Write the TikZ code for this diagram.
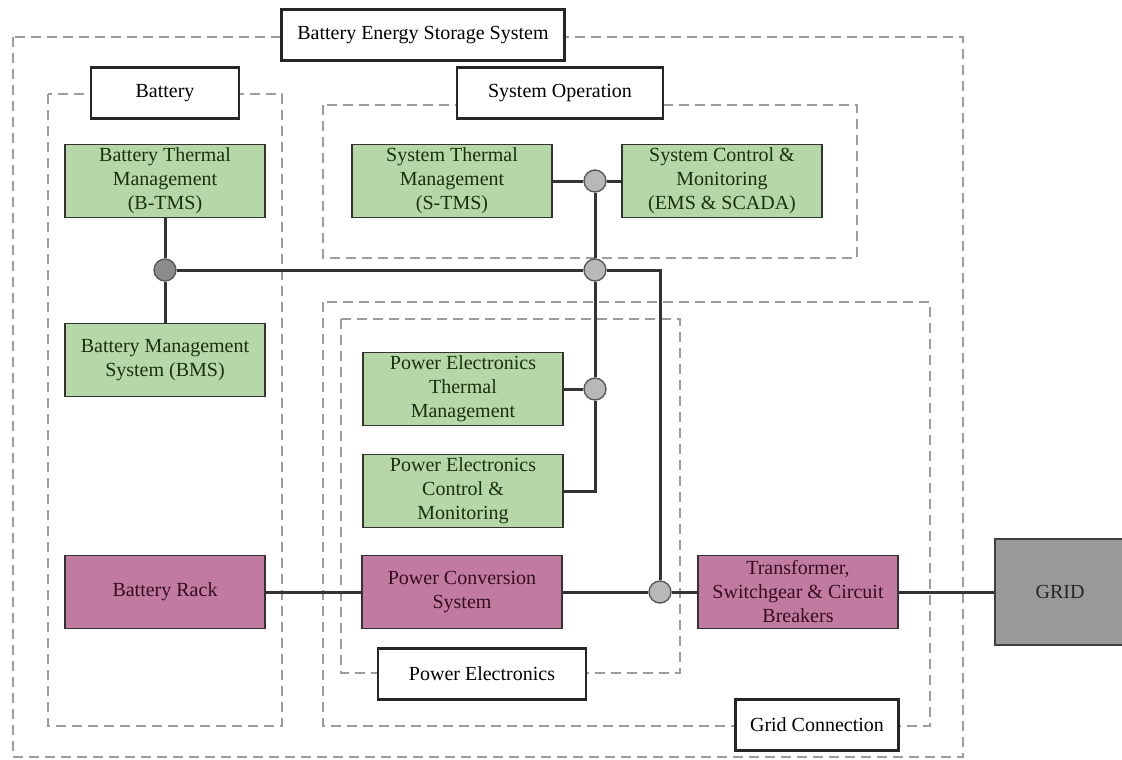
\documentclass[tikz,border=0pt]{standalone}
\usepackage{fontspec}
\setmainfont{Liberation Serif}
\usetikzlibrary{positioning,calc}
\usepackage{xcolor}
\definecolor{leaf}{HTML}{B6D7A8}
\definecolor{mauve}{HTML}{C27BA0}
\definecolor{leafdark}{HTML}{1A3010}
\definecolor{mauvedark}{HTML}{360C22}
\definecolor{dashgray}{HTML}{9C9C9C}
\definecolor{wiregray}{HTML}{333333}

\begin{document}
\begin{tikzpicture}[x=1pt, y=-1pt, font=\fontsize{20}{24}\selectfont,
      grp/.style={draw=dashgray, line width=1.7pt, dash pattern=on 10pt off 6pt},
      ttl/.style={draw=black!85, fill=white, line width=2.2pt, minimum height=51pt, inner sep=2pt},
      gbox/.style={draw=black!80, fill=leaf, text=leafdark, line width=1.3pt, minimum width=200pt,
                   minimum height=73pt, align=center, inner sep=2pt},
      pbox/.style={gbox, fill=mauve, text=mauvedark},
      jn/.style={circle, draw=black!65, fill=black!28, line width=1.4pt, minimum size=22pt, inner sep=0pt},
      wire/.style={draw=wiregray, line width=3pt}]
    \useasboundingbox (0,0) rectangle (1122,760);
    \draw[grp] (13,37) rectangle (963,757);
    \draw[grp] (48,94) rectangle (282,726);
    \draw[grp] (323,105) rectangle (857,258);
    \draw[grp] (323,302) rectangle (930,726);
    \draw[grp] (341,319) rectangle (680,673);
    \node[ttl, minimum width=283pt] (tbess) at (423,35) {Battery Energy Storage System};
    \node[ttl, minimum width=148pt] (tbat) at (165,93) {Battery};
    \node[ttl, minimum width=206pt] (tsys) at (560,93) {System Operation};
    \node[ttl, minimum width=208pt] (tpe) at (482,674) {Power Electronics};
    \node[ttl, minimum width=163pt] (tgrid) at (817,725) {Grid Connection};
    \node[gbox] (btms) at (165,181) {Battery Thermal\\Management\\(B-TMS)};
    \node[gbox] (bms) at (165,360) {Battery Management\\System (BMS)};
    \node[gbox] (stms) at (452,181) {System Thermal\\Management\\(S-TMS)};
    \node[gbox] (sctl) at (722,181) {System Control \&\\Monitoring\\(EMS \& SCADA)};
    \node[gbox] (peth) at (463,389) {Power Electronics\\Thermal\\Management};
    \node[gbox] (pectl) at (463,491) {Power Electronics\\Control \&\\Monitoring};
    \node[pbox] (rack) at (165,592) {Battery Rack};
    \node[pbox] (pcs) at (462,592) {Power Conversion\\System};
    \node[pbox] (trafo) at (798,592) {Transformer,\\Switchgear \& Circuit\\Breakers};
    \node[draw=black!75, fill=black!40, text=black!85, line width=1.3pt, minimum width=130pt,
          minimum height=106pt] (grid) at (1060,592) {GRID};
    \node[jn, fill=black!45] (j1) at (165,270) {};
    \node[jn] (j2) at (595,181) {};
    \node[jn] (j3) at (595,270) {};
    \node[jn] (j4) at (595,389) {};
    \node[jn] (j5) at (660,592) {};
    \draw[wire] (btms) -- (j1) -- (bms);
    \draw[wire] (j1) -- (j3) -| (j5);
    \draw[wire] (stms) -- (j2) -- (sctl);
    \draw[wire] (j2) -- (j3) -- (j4) |- (pectl);
    \draw[wire] (peth) -- (j4);
    \draw[wire] (rack) -- (pcs) -- (j5) -- (trafo) -- (grid);
  \end{tikzpicture}
\end{document}
